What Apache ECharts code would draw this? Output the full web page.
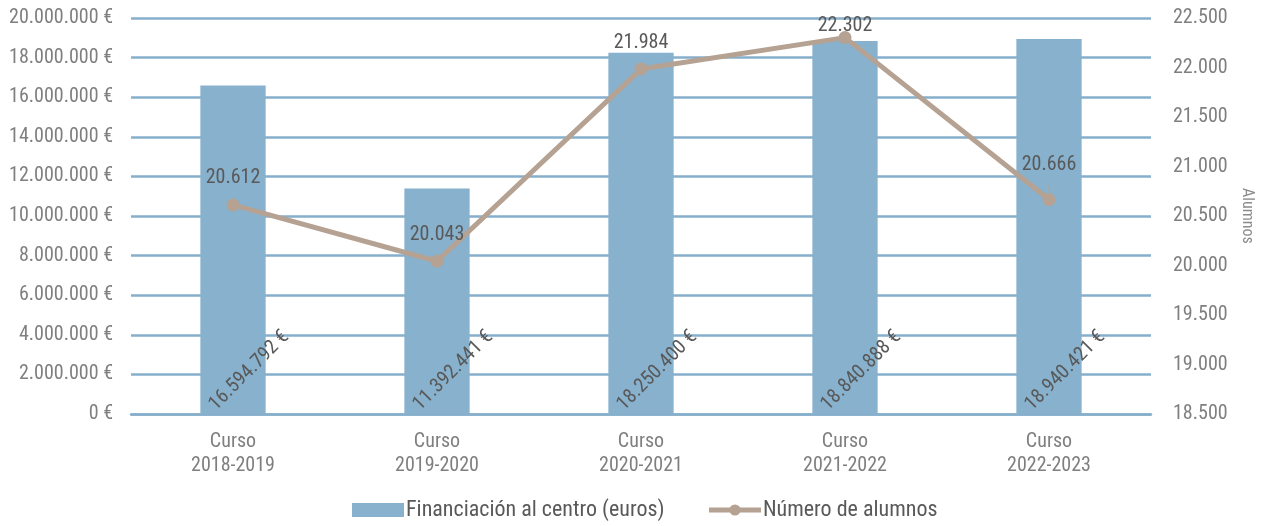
<!DOCTYPE html>
<html>
<head>
<meta charset="utf-8">
<script src="https://cdn.jsdelivr.net/npm/echarts@6/dist/echarts.min.js"></script>
<style>
  html, body { margin: 0; padding: 0; background: #fff; }
  #chart { width: 1263px; height: 526px; }
</style>
</head>
<body>
<div id="chart"></div>
<script>
const categories = ['Curso\n2018-2019', 'Curso\n2019-2020', 'Curso\n2020-2021', 'Curso\n2021-2022', 'Curso\n2022-2023']
const funding = [16594792, 11392441, 18250400, 18840888, 18940421]
const students = [20612, 20043, 21984, 22302, 20666]

const FONT = "'Liberation Sans Narrow', 'Roboto Condensed', 'Liberation Sans', sans-serif"

function fmt(n) {
  return String(Math.round(n)).replace(/\B(?=(\d{3})+(?!\d))/g, '.')
}

// per-point label tweaks for the line series
function studentPoint(v, i) {
  if (i === 3) return { value: v, label: { distance: -5 } }
  if (i === 4) return { value: v, label: { distance: 18 }, labelLine: { show: true } }
  return v
}

const chart = echarts.init(document.getElementById('chart'), null, { renderer: 'canvas' })

chart.setOption({
  animation: false,
  textStyle: { fontFamily: FONT },
  grid: { left: 131, right: 110, top: 18, bottom: 112 },
  legend: {
    top: 499,
    left: 352,
    padding: 0,
    itemGap: 42,
    itemWidth: 52,
    itemHeight: 14,
    lineStyle: { width: 5 },
    textStyle: { fontFamily: FONT, fontSize: 22, color: '#595959', padding: [0, 0, 0, -3] },
    data: [
      { name: 'Financiación al centro (euros)', icon: 'rect' },
      { name: 'Número de alumnos' }
    ]
  },
  xAxis: {
    type: 'category',
    data: categories,
    axisLine: { lineStyle: { color: '#86afcb', width: 2.5 } },
    axisTick: { show: false },
    axisLabel: { fontFamily: FONT, fontSize: 20, color: '#7f7f7f', lineHeight: 24, margin: 16 }
  },
  yAxis: [
    {
      type: 'value',
      min: 0,
      max: 20000000,
      interval: 2000000,
      axisLine: { show: false },
      axisTick: { show: false },
      splitLine: { lineStyle: { color: '#86afcb', width: 2.5 } },
      axisLabel: {
        fontFamily: FONT, fontSize: 20, color: '#7f7f7f', margin: 18,
        formatter: v => fmt(v) + ' €'
      }
    },
    {
      type: 'value',
      min: 18500,
      max: 22500,
      interval: 500,
      name: 'Alumnos',
      nameLocation: 'middle',
      nameGap: 88,
      nameRotate: -90,
      nameTextStyle: { fontFamily: FONT, fontSize: 16, color: '#8c8c8c' },
      axisLine: { show: false },
      axisTick: { show: false },
      splitLine: { show: false },
      axisLabel: {
        fontFamily: FONT, fontSize: 20, color: '#7f7f7f', margin: 22,
        formatter: v => fmt(v)
      }
    }
  ],
  series: [
    {
      name: 'Financiación al centro (euros)',
      type: 'bar',
      data: funding,
      barWidth: '32%',
      itemStyle: { color: '#87b1cd' },
      label: {
        show: true,
        position: 'insideBottom',
        rotate: 45,
        align: 'left',
        verticalAlign: 'middle',
        distance: 27,
        offset: [-29, 0],
        fontFamily: FONT,
        fontSize: 20,
        color: '#595959',
        formatter: p => fmt(p.value) + ' €'
      }
    },
    {
      name: 'Número de alumnos',
      type: 'line',
      yAxisIndex: 1,
      data: students.map(studentPoint),
      symbol: 'circle',
      symbolSize: 13,
      lineStyle: { color: '#b5a293', width: 5 },
      itemStyle: { color: '#b5a293' },
      label: {
        show: true,
        position: 'top',
        distance: 10,
        fontFamily: FONT,
        fontSize: 20,
        color: '#595959',
        formatter: p => fmt(p.value)
      },
      z: 3
    }
  ]
})
</script>
</body>
</html>
